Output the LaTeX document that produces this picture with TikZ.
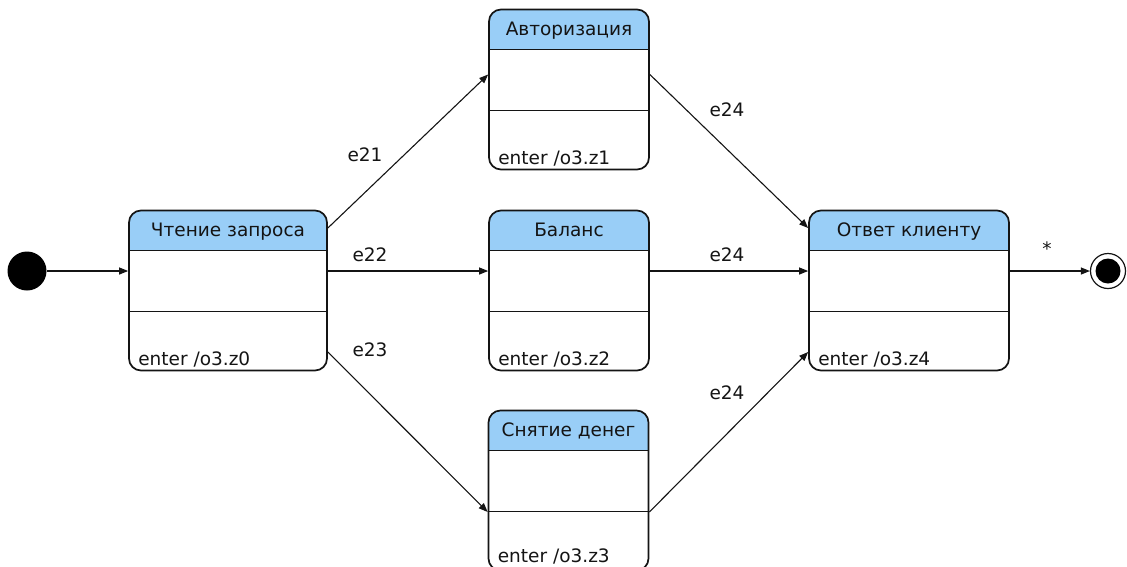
\documentclass[tikz,border=0pt]{standalone}
\usepackage{fontspec}
\setmainfont{DejaVu Sans}
\usetikzlibrary{arrows.meta}
\definecolor{hdrblue}{RGB}{153,206,247}
\definecolor{ink}{RGB}{20,20,20}
\begin{document}
\begin{tikzpicture}[x=1pt,y=-1pt,
  font=\fontsize{18.5}{21}\selectfont,
  % a state: rounded box with a blue title band and two compartments
  state/.style={draw=ink, line width=1.7pt, rounded corners=12pt,
    minimum width=#1, minimum height=160pt, inner sep=0pt,
    path picture={
      \begin{scope}[sharp corners]
        \fill[hdrblue] (path picture bounding box.north west) rectangle
          ([yshift=-40pt]path picture bounding box.north east);
        \draw[ink, line width=1.7pt]
          ([yshift=-40pt]path picture bounding box.north west) --
          ([yshift=-40pt]path picture bounding box.north east);
        \draw[ink, line width=1.7pt]
          ([yshift=-101pt]path picture bounding box.north west) --
          ([yshift=-101pt]path picture bounding box.north east);
      \end{scope}}},
  title/.style={anchor=base, inner sep=0pt, text=ink},
  action/.style={anchor=base west, inner sep=0pt, text=ink},
  evt/.style={inner sep=0pt, text=ink},
  tr/.style={draw=ink, line width=1.1pt, -{Triangle[length=9pt,width=7pt]}},
]
\useasboundingbox (0,0) rectangle (1127,566);
\clip (0,0) rectangle (1127,566);

% states
\node[state=198pt] (read) at (228,290.5) {};
\node[state=160pt] (auth) at (569,89.5) {};
\node[state=160pt] (bal)  at (569,290.5) {};
\node[state=160pt] (cash) at (568.5,490.5) {};
\node[state=200pt] (resp) at (909,290.5) {};

% state titles
\node[title] (readT) at ([yshift=-27pt]read.north) {Чтение запроса};
\node[title] (authT) at ([yshift=-27pt]auth.north) {Авторизация};
\node[title] (balT)  at ([yshift=-27pt]bal.north)  {Баланс};
\node[title] (cashT) at ([yshift=-27pt]cash.north) {Снятие денег};
\node[title] (respT) at ([yshift=-27pt]resp.north) {Ответ клиенту};

% entry actions
\node[action] (readA) at ([xshift=10pt,yshift=6pt]read.south west) {enter /o3.z0};
\node[action] (authA) at ([xshift=10pt,yshift=6pt]auth.south west) {enter /o3.z1};
\node[action] (balA)  at ([xshift=10pt,yshift=6pt]bal.south west)  {enter /o3.z2};
\node[action] (cashA) at ([xshift=10pt,yshift=9pt]cash.south west) {enter /o3.z3};
\node[action] (respA) at ([xshift=10pt,yshift=6pt]resp.south west) {enter /o3.z4};

% pseudo-states
\node[circle, fill=black, minimum size=39pt, inner sep=0pt] (init) at (27,271) {};
\node[circle, draw=ink, line width=1.2pt, minimum size=35pt, inner sep=0pt] (fin) at (1108,271) {};
\node[circle, fill=black, minimum size=25pt, inner sep=0pt] (finC) at (fin) {};

% transitions
\draw[tr] (init) -- (init -| read.west);
\draw[tr] ([yshift=62.5pt]read.east) -- ([yshift=15pt]auth.west);
\draw[tr] (read.east |- init) -- (bal.west |- init);
\draw[tr] ([yshift=-61.5pt]read.east) -- ([yshift=-21.5pt]cash.west);
\draw[tr] ([yshift=15pt]auth.east) -- ([yshift=62.5pt]resp.west);
\draw[tr] (bal.east |- init) -- (resp.west |- init);
\draw[tr] ([yshift=-21.5pt]cash.east) -- ([yshift=-61.5pt]resp.west);
\draw[tr] (resp.east |- fin) -- (fin);

% events
\node[evt] (e21) at (365,155) {e21};
\node[evt] (e22) at (370,255) {e22};
\node[evt] (e23) at (370,350) {e23};
\node[evt] (e24a) at (727,110) {e24};
\node[evt] (e24b) at (727,255) {e24};
\node[evt] (e24c) at (727,393) {e24};
\node[evt] (star) at (1047,249) {*};
\end{tikzpicture}
\end{document}
